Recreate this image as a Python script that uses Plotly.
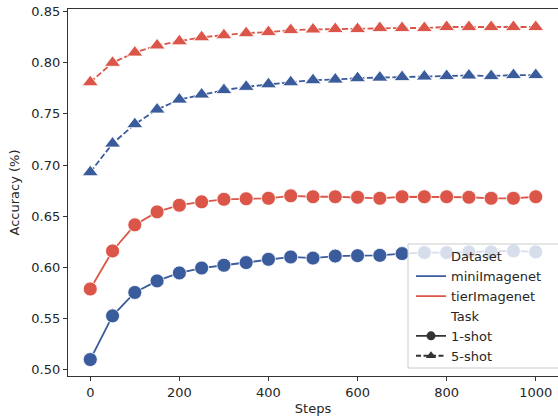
import plotly.graph_objects as go

steps = list(range(0, 1001, 50))

mini_1shot = [0.5098, 0.5525, 0.5754, 0.5867, 0.5945, 0.5993, 0.6020, 0.6046, 0.6078, 0.6101,
              0.6090, 0.6110, 0.6114, 0.6117, 0.6134, 0.6144, 0.6144, 0.6150, 0.6150, 0.6160, 0.6150]
tier_1shot = [0.5788, 0.6160, 0.6415, 0.6542, 0.6607, 0.6640, 0.6665, 0.6670, 0.6675, 0.6699,
              0.6690, 0.6690, 0.6685, 0.6675, 0.6690, 0.6690, 0.6690, 0.6685, 0.6675, 0.6675, 0.6690]
mini_5shot = [0.6930, 0.7210, 0.7400, 0.7543, 0.7640, 0.7690, 0.7733, 0.7765, 0.7790, 0.7810,
              0.7830, 0.7836, 0.7850, 0.7855, 0.7860, 0.7866, 0.7870, 0.7876, 0.7870, 0.7880, 0.7880]
tier_5shot = [0.7810, 0.8000, 0.8100, 0.8170, 0.8210, 0.8250, 0.8270, 0.8290, 0.8300, 0.8320,
              0.8326, 0.8330, 0.8330, 0.8340, 0.8340, 0.8340, 0.8350, 0.8350, 0.8350, 0.8350, 0.8350]

BLUE = "#3a5b9c"
RED = "#dc5549"
GREY = "#333333"
FONT = "DejaVu Sans"

fig = go.Figure()

series = [
    (mini_1shot, BLUE, "solid", "circle", 14),
    (tier_1shot, RED, "solid", "circle", 14),
    (mini_5shot, BLUE, "6px,2.5px", "triangle-up", 14),
    (tier_5shot, RED, "6px,2.5px", "triangle-up", 14),
]
for vals, col, dash, sym, sz in series:
    fig.add_trace(go.Scatter(
        x=steps, y=vals, mode="lines+markers", showlegend=False,
        line=dict(color=col, width=1.8, dash=dash),
        marker=dict(symbol=sym, size=sz, color=col,
                    line=dict(color="white", width=0.8)),
        hoverinfo="skip",
    ))

# legend entries
def leg(name, color, dash="solid", mode="lines", symbol=None):
    kw = dict(x=[None], y=[None], name=name, mode=mode, showlegend=True,
              line=dict(color=color, width=1.8, dash=dash))
    if symbol:
        kw["marker"] = dict(symbol=symbol, size=9, color=color)
    fig.add_trace(go.Scatter(**kw))

leg("Dataset", "rgba(0,0,0,0)")
leg("miniImagenet", BLUE)
leg("tierImagenet", RED)
leg("Task", "rgba(0,0,0,0)")
leg("1-shot", GREY, mode="lines+markers", symbol="circle")
leg("5-shot", GREY, dash="5px,2.5px", mode="lines+markers", symbol="triangle-up")

axis_common = dict(
    showgrid=False, zeroline=False, showline=True, linecolor="#333333", linewidth=1.2,
    ticks="outside", ticklen=4, tickwidth=1.2, tickcolor="#333333", automargin=False,
    ticklabeloverflow="allow",
    tickfont=dict(family=FONT, size=13, color="#262626"),
)

fig.update_layout(
    width=558, height=416,
    margin=dict(l=68, r=0, t=9, b=40),
    paper_bgcolor="white", plot_bgcolor="white",
    font=dict(family=FONT, size=13, color="#262626"),
    xaxis=dict(range=[-50, 1050], tickvals=[0, 200, 400, 600, 800, 1000], mirror=True,
               title=dict(text="Steps", font=dict(family=FONT, size=13), standoff=6),
               **axis_common),
    yaxis=dict(range=[0.4937, 0.8526], tickvals=[0.50, 0.55, 0.60, 0.65, 0.70, 0.75, 0.80, 0.85],
               tickformat=".2f",
               title=dict(text="Accuracy (%)", font=dict(family=FONT, size=13), standoff=8),
               **axis_common),
    legend=dict(x=0.700, y=0.367, xanchor="left", yanchor="top",
                bgcolor="rgba(0,0,0,0)", borderwidth=0,
                font=dict(family=FONT, size=13, color="#262626"),
                tracegroupgap=0, itemwidth=30),
    # legend frame (extends past the right edge, as in the reference)
    shapes=[dict(type="rect", xref="paper", yref="paper", layer="above",
                 x0=0.6939, x1=1.02, y0=0.0218, y1=0.3597,
                 fillcolor="rgba(255,255,255,0.8)", line=dict(color="#cccccc", width=1))],
)

fig.write_html("out.html", post_script="document.body.style.margin='0';",
               config={"displayModeBar": False})
